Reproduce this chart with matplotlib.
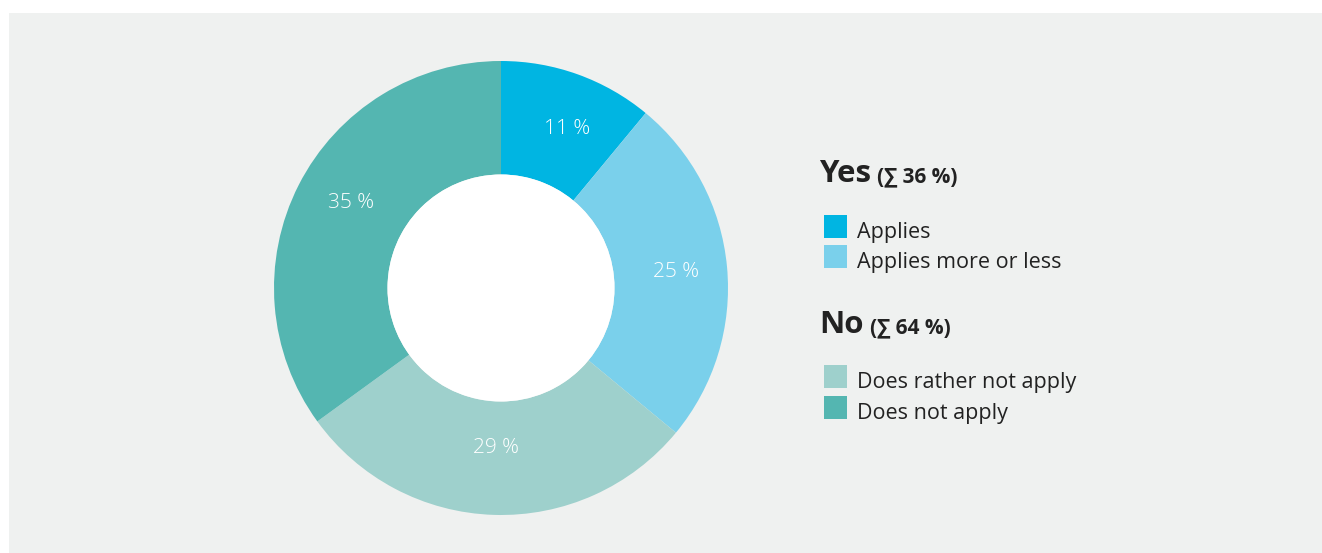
import matplotlib
matplotlib.use("Agg")
import matplotlib.pyplot as plt
from matplotlib.patches import Rectangle

plt.rcParams["font.family"] = ["Open Sans", "DejaVu Sans"]

# survey answers, clockwise from 12 o'clock
categories = ["Applies", "Applies more or less", "Does rather not apply", "Does not apply"]
values = [11, 25, 29, 35]
colors = ["#00b5e2", "#7ad0eb", "#9ed0cc", "#54b6b1"]
groups = ["Yes", "No"]
group_members = [[0, 1], [2, 3]]

W, H = 1322, 553
fig = plt.figure(figsize=(W / 100, H / 100), dpi=100)
fig.patch.set_facecolor("white")
ax = fig.add_axes([0, 0, 1, 1])

# grey panel behind everything
ax.add_patch(Rectangle((9, 0), W - 9, H - 13, facecolor="#eff1f0", edgecolor="none", zorder=0))

cx, cy, r = 501, H - 288, 227
wedges, _, pcts = ax.pie(
    values,
    colors=colors,
    startangle=90,
    counterclock=False,
    radius=r,
    center=(cx, cy),
    autopct=lambda p: f"{p:.0f} %",
    pctdistance=0.76,
    wedgeprops=dict(width=r * 0.5, edgecolor="none", zorder=2),
    textprops=dict(color="white", fontsize=15, fontweight="light"),
)
# small nudges of the percent labels (pixels, x right / y up)
nudge = [(8, -3), (3, 0), (0, 12), (4, 7)]
for t, (dx, dy) in zip(pcts, nudge):
    x, y = t.get_position()
    t.set_position((x + dx, y + dy))

# white hole
ax.add_patch(plt.Circle((cx, cy), r * 0.5, facecolor="white", edgecolor="none", zorder=3))

ax.set_xlim(0, W)
ax.set_ylim(0, H)
ax.set_aspect("auto")
ax.axis("off")

# legend, drawn by hand in pixel units
text_col = "#222222"
head_y = [182, 333]
item_y = [[238, 268], [388, 419]]
for g, name in enumerate(groups):
    total = sum(values[i] for i in group_members[g])
    t = ax.text(819, H - head_y[g], name, fontsize=22.5, fontweight="bold",
                color=text_col, va="baseline", ha="left")
    fig.canvas.draw()
    bb = t.get_window_extent()
    ax.text(bb.x1 + 6, H - head_y[g], f"(\u2211 {total} %)", fontsize=15,
            fontweight="bold", color=text_col, va="baseline", ha="left")
    for k, i in enumerate(group_members[g]):
        y = H - item_y[g][k]
        ax.add_patch(Rectangle((824, y), 23, 23, facecolor=colors[i], edgecolor="none"))
        ax.text(857, y, categories[i], fontsize=15.5, color=text_col,
                va="baseline", ha="left")

fig.savefig("out.png", dpi=100, facecolor=fig.get_facecolor())
